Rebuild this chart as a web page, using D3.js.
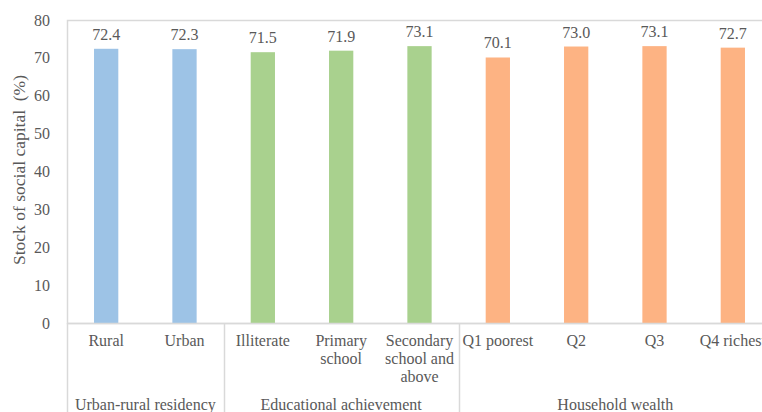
<!DOCTYPE html>
<html>
<head>
<meta charset="utf-8">
<script src="https://cdn.jsdelivr.net/npm/d3@7"></script>
<style>
  body { margin: 0; background: #fff; }
  svg { display: block; }
</style>
</head>
<body>
<div id="chart"></div>
<script>
// chart values
const categories = ['Rural', 'Urban', 'Illiterate', 'Primary|school', 'Secondary|school and|above',
  'Q1 poorest', 'Q2', 'Q3', 'Q4 richest'];
const values = [72.4, 72.3, 71.5, 71.9, 73.1, 70.1, 73.0, 73.1, 72.7];
const groups = ['Urban-rural residency', 'Educational achievement', 'Household wealth'];
const groupSizes = [2, 3, 4];
const groupColors = ['#9dc3e6', '#a9d18e', '#fdb383'];
const yTicks = [0, 10, 20, 30, 40, 50, 60, 70, 80];

const width = 762, height = 412;
const margin = { top: 20, left: 67 };
const plotW = 705, plotBottom = 323;
const textColor = '#595959', lineColor = '#d9d9d9';
const fontFamily = "'Liberation Serif', 'Times New Roman', serif";
const fs = 16;

const svg = d3.select('#chart').append('svg')
  .attr('width', width)
  .attr('height', height)
  .attr('font-family', fontFamily)
  .style('font-family', fontFamily);

const x = d3.scaleBand()
  .domain(d3.range(categories.length))
  .range([margin.left, margin.left + plotW])
  .paddingInner(0.69)
  .paddingOuter(0.345);

const y = d3.scaleLinear()
  .domain([0, 80])
  .range([plotBottom, margin.top]);

// group index per category
const groupOf = [];
groupSizes.forEach((n, g) => { for (let i = 0; i < n; i++) groupOf.push(g); });

// plot frame
svg.append('rect')
  .attr('x', margin.left + 0.5)
  .attr('y', margin.top + 0.5)
  .attr('width', plotW)
  .attr('height', plotBottom - margin.top)
  .attr('fill', 'none')
  .attr('stroke', lineColor)
  .attr('stroke-width', 1.5);

// y axis labels
svg.append('g').selectAll('text')
  .data(yTicks)
  .enter().append('text')
  .attr('x', 50)
  .attr('y', d => y(d))
  .attr('dy', '0.35em')
  .attr('text-anchor', 'end')
  .attr('font-size', fs)
  .attr('fill', textColor)
  .text(d => d);

svg.append('text')
  .attr('transform', `translate(25,170) rotate(-90)`)
  .attr('text-anchor', 'middle')
  .attr('font-size', 17.5)
  .attr('fill', textColor)
  .style('white-space', 'pre')
  .text('Stock of social capital  (%)');

// bars
svg.append('g').selectAll('rect')
  .data(values)
  .enter().append('rect')
  .attr('x', (d, i) => x(i))
  .attr('y', d => y(d))
  .attr('width', x.bandwidth())
  .attr('height', d => y(0) - y(d))
  .attr('fill', (d, i) => groupColors[groupOf[i]]);

// value labels
svg.append('g').selectAll('text')
  .data(values)
  .enter().append('text')
  .attr('x', (d, i) => x(i) + x.bandwidth() / 2)
  .attr('y', d => y(d) - 9)
  .attr('text-anchor', 'middle')
  .attr('font-size', fs)
  .attr('fill', textColor)
  .text(d => d.toFixed(1));

// baseline
svg.append('line')
  .attr('x1', margin.left)
  .attr('x2', margin.left + plotW)
  .attr('y1', plotBottom + 0.5)
  .attr('y2', plotBottom + 0.5)
  .attr('stroke', lineColor)
  .attr('stroke-width', 1.5);

// category labels
const catLabels = svg.append('g').selectAll('text')
  .data(categories)
  .enter().append('text')
  .attr('text-anchor', 'middle')
  .attr('font-size', fs)
  .attr('fill', textColor);

catLabels.selectAll('tspan')
  .data((d, i) => d.split('|').map(s => ({ s, i })))
  .enter().append('tspan')
  .attr('x', d => x(d.i) + x.bandwidth() / 2)
  .attr('y', (d, j) => 346 + j * 18)
  .text(d => d.s);

// group separators and labels
let start = 0;
groupSizes.forEach((n, g) => {
  const x0 = x(start) - x.step() * x.paddingInner() / 2;
  const x1 = x(start + n - 1) + x.bandwidth() + x.step() * x.paddingInner() / 2;
  svg.append('line')
    .attr('x1', Math.round(x0) + 0.5)
    .attr('x2', Math.round(x0) + 0.5)
    .attr('y1', plotBottom)
    .attr('y2', height)
    .attr('stroke', lineColor)
    .attr('stroke-width', 1.5);
  svg.append('text')
    .attr('x', (x0 + x1) / 2)
    .attr('y', 410)
    .attr('text-anchor', 'middle')
    .attr('font-size', fs)
    .attr('fill', textColor)
    .text(groups[g]);
  start += n;
});
</script>
</body>
</html>
